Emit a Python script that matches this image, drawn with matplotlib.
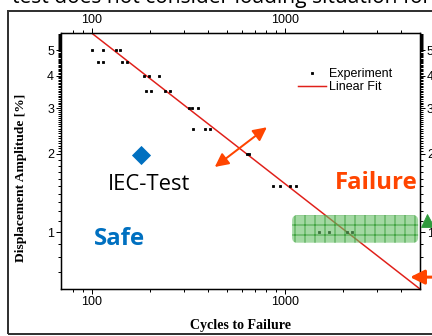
import numpy as np
import matplotlib
matplotlib.use('Agg')
import matplotlib.pyplot as plt
from matplotlib.ticker import FixedLocator, NullFormatter, FixedFormatter
from matplotlib.patches import FancyBboxPatch, Rectangle
from matplotlib.lines import Line2D
from matplotlib.transforms import IdentityTransform

DPI = 60
PX = 72 / DPI  # points per pixel

# ---------------- data ----------------
exp_cycles = [101, 114, 134, 141,
              108, 114, 144, 153,
              186, 198, 222,
              192, 204, 239, 256,
              320, 330, 357,
              334, 385, 410,
              635, 655,
              866, 941, 1062, 1141,
              1500, 1690, 2108, 2227]
exp_amp = [5.0, 5.0, 5.0, 5.0,
           4.5, 4.5, 4.5, 4.5,
           4.0, 4.0, 4.0,
           3.5, 3.5, 3.5, 3.5,
           3.0, 3.0, 3.0,
           2.5, 2.5, 2.5,
           2.0, 2.0,
           1.5, 1.5, 1.5, 1.5,
           1.0, 1.0, 1.0, 1.0]

fit_cycles = [100, 5000]
fit_amp = [5.83, 0.604]

iec_cycles = [181]
iec_amp = [1.98]

arrow_cycles = [434, 807]
arrow_amp = [1.78, 2.53]

region_cycles = [1090, 4890]
region_amp = [0.91, 1.16]

x_major = [100, 1000]
x_labels = ['100', '1000']
y_major = [1, 2, 3, 4, 5]
y_labels = ['1', '2', '3', '4', '5']

# ---------------- figure ----------------
fig = plt.figure(figsize=(432 / DPI, 336 / DPI), dpi=DPI)
fig.patch.set_facecolor('white')

ax = fig.add_axes([61 / 432, 47 / 336, 359 / 432, 256 / 336])
ax.set_xscale('log')
ax.set_yscale('log')
ax.set_xlim(69.5, 5000)
ax.set_ylim(0.604, 5.83)

# ticks
ax.xaxis.set_major_locator(FixedLocator(x_major))
ax.xaxis.set_major_formatter(FixedFormatter(x_labels))
x_minor = [80, 90, 200, 300, 400, 500, 600, 700, 800, 900, 2000, 3000, 4000]
ax.xaxis.set_minor_locator(FixedLocator(x_minor))
ax.xaxis.set_minor_formatter(NullFormatter())

ax.yaxis.set_major_locator(FixedLocator(y_major))
ax.yaxis.set_major_formatter(FixedFormatter(y_labels))
y_minor = [0.7, 0.8, 0.9] + [round(1 + 0.1 * i, 2) for i in range(1, 10)] + \
          [round(2 + 0.05 * i, 2) for i in range(1, 77) if (i % 20) != 0]
ax.yaxis.set_minor_locator(FixedLocator(y_minor))
ax.yaxis.set_minor_formatter(NullFormatter())

ax.tick_params(which='both', direction='out', top=True, right=True,
               labeltop=True, labelright=True, width=1 * PX, color='black')
ax.tick_params(which='major', length=5 * PX, pad=2 * PX, labelsize=12.5 * PX)
ax.tick_params(which='minor', length=3 * PX)
for lab in ax.get_xticklabels() + ax.get_yticklabels():
    lab.set_family('Liberation Sans')
for sp in ax.spines.values():
    sp.set_linewidth(1.5 * PX)

ax.set_xlabel('Cycles to Failure', family='Liberation Serif', weight='bold',
              size=14 * PX)
ax.set_ylabel('Displacement Amplitude [%]', family='Liberation Serif',
              weight='bold', size=13.5 * PX)
ax.yaxis.set_label_coords(-(61 - 27) / 359, (289 - 178) / 256)
ax.xaxis.set_label_coords(0.5, -(319 - 289) / 256)

# data
ax.plot(exp_cycles, exp_amp, linestyle='none', marker='s', ms=3 * PX,
        color='black', zorder=3)
ax.plot(fit_cycles, fit_amp, color='#E0201A', lw=1.5 * PX, zorder=2)

ax.plot(iec_cycles, iec_amp, linestyle='none', marker='D', ms=13 * PX,
        color='#0070C0', zorder=4)

ax.text(199, 1.52, 'IEC-Test', family='Open Sans', size=22 * PX,
        ha='center', va='center', color='black')
ax.text(140, 0.94, 'Safe', family='Open Sans', weight='bold', size=24 * PX,
        ha='center', va='center', color='#0070C0')
ax.text(2965, 1.54, 'Failure', family='Open Sans', weight='bold', size=24 * PX,
        ha='center', va='center', color='#FF4500')

ax.annotate('', xy=(arrow_cycles[1], arrow_amp[1]),
            xytext=(arrow_cycles[0], arrow_amp[0]),
            arrowprops=dict(arrowstyle='<|-|>', color='#FF4500', lw=2 * PX,
                            mutation_scale=34, shrinkA=0, shrinkB=0), zorder=5)

ax.annotate('', xy=(4445, 0.671), xytext=(6800, 0.671),
            arrowprops=dict(arrowstyle='-|>', color='#FF4500', lw=3 * PX,
                            mutation_scale=36, shrinkA=0, shrinkB=0),
            annotation_clip=False, zorder=5)

ax.plot([5445], [1.11], linestyle='none', marker='^', ms=13 * PX,
        color='#2E9A3C', clip_on=False, zorder=5)

# legend
handles = [Line2D([], [], linestyle='none', marker='s', ms=3 * PX, color='black'),
           Line2D([], [], color='#E0201A', lw=1.5 * PX)]
ax.legend(handles, ['Experiment', 'Linear Fit'], loc='upper left',
          bbox_to_anchor=((298 - 61) / 359, 1 - (68 - 33) / 256),
          frameon=False, borderaxespad=0, borderpad=0,
          handlelength=2.2, handletextpad=0.25, labelspacing=0.1,
          prop=dict(family='Liberation Sans', size=12.5 * PX))

# green region (rounded, hatched)
fig.canvas.draw()
(x0, y0) = ax.transData.transform((region_cycles[0], region_amp[0]))
(x1, y1) = ax.transData.transform((region_cycles[1], region_amp[1]))
plt.rcParams['hatch.linewidth'] = 1.0 * PX
plt.rcParams['hatch.color'] = '#45A545'
box = FancyBboxPatch((x0, y0), x1 - x0, y1 - y0,
                     boxstyle='round,pad=0,rounding_size=5',
                     transform=IdentityTransform(),
                     facecolor=(0.40, 0.75, 0.40, 0.6), edgecolor='#45A545',
                     linewidth=0, hatch='+', zorder=6)
ax.add_patch(box)

# outer frame and cut-off caption
fig.patches.append(Rectangle((8 / 432, 2 / 336), 1.2, (334 - 11) / 336,
                             transform=fig.transFigure, fill=False,
                             edgecolor='#333333', linewidth=2 * PX))
fig.text(12 / 432, 333 / 336, 'test does not consider loading situation for',
         family='Open Sans', size=21 * PX, va='baseline', ha='left')

fig.savefig('out.png', dpi=DPI)
